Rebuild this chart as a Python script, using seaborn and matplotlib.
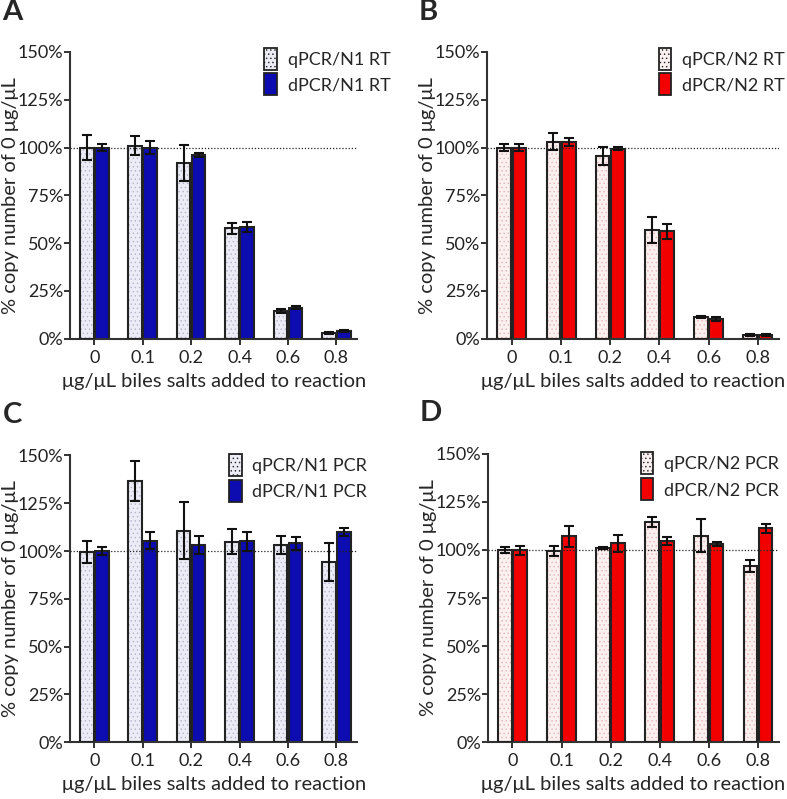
import numpy as np
import pandas as pd
import matplotlib
matplotlib.use("Agg")
from matplotlib import pyplot as plt
from matplotlib.patches import Rectangle, Patch
import seaborn as sns

# Bile salt concentrations (x categories)
concentrations = ["0", "0.1", "0.2", "0.4", "0.6", "0.8"]

# Panel A: N1 RT
qpcr_n1_rt = [100, 101, 92, 57.8, 14.6, 2.8]
qpcr_n1_rt_err = [6.6, 5, 9.4, 2.8, 1, 0.5]
dpcr_n1_rt = [100, 100, 96, 58.5, 16.3, 4]
dpcr_n1_rt_err = [2, 3.6, 1, 2.5, 0.8, 0.6]

# Panel B: N2 RT
qpcr_n2_rt = [100, 103, 95.7, 56.9, 11.5, 1.9]
qpcr_n2_rt_err = [1.8, 4.5, 4.7, 7, 0.6, 0.5]
dpcr_n2_rt = [100, 103, 99.5, 56.2, 10.3, 2.2]
dpcr_n2_rt_err = [2, 2, 1, 4, 1.2, 0.5]

# Panel C: N1 PCR
qpcr_n1_pcr = [99.5, 136.8, 110.7, 104.9, 103.2, 94.3]
qpcr_n1_pcr_err = [6, 10.5, 14.8, 6.4, 4.9, 10]
dpcr_n1_pcr = [100, 105.4, 103.4, 105.1, 104, 110]
dpcr_n1_pcr_err = [2, 4.4, 4.7, 5, 3.5, 2.3]

# Panel D: N2 PCR
qpcr_n2_pcr = [99.8, 99.5, 101, 114.5, 107.5, 91.5]
qpcr_n2_pcr_err = [1.5, 2.5, 0.7, 2.5, 8.7, 3.2]
dpcr_n2_pcr = [99.8, 107.2, 103.5, 104.8, 103, 111.2]
dpcr_n2_pcr_err = [2.3, 5.4, 4.5, 2, 1, 2.2]

sns.set_style("white")
plt.rcParams["font.family"] = ["Lato", "DejaVu Sans"]
plt.rcParams["hatch.linewidth"] = 0.5

BLUE = "#0c0cb0"
RED = "#f20000"


def panel(ax, q, q_err, d, d_err, names, dark, light, dots, letter, leg_anchor, ylab_x):
    df = pd.DataFrame({
        "conc": concentrations * 2,
        "value": list(q) + list(d),
        "assay": [names[0]] * len(q) + [names[1]] * len(d),
    })
    sns.barplot(data=df, x="conc", y="value", hue="assay", order=concentrations,
                hue_order=names, palette=[light, dark], width=0.62, gap=0.1,
                errorbar=None, legend=False, ax=ax, saturation=1)

    # qPCR bars: dotted fill, dark outline drawn on top
    for bar in ax.containers[0]:
        bar.set_facecolor(light)
        bar.set_edgecolor(dots)
        bar.set_hatch("....")
        bar.set_linewidth(0)
        outline = Rectangle(bar.get_xy(), bar.get_width(), bar.get_height(),
                            facecolor="none", edgecolor="#222222", linewidth=1.5, zorder=3)
        ax.add_patch(outline)
    for bar in ax.containers[1]:
        bar.set_edgecolor("#222222")
        bar.set_linewidth(1.5)

    for cont, err in zip(ax.containers[:2], [q_err, d_err]):
        xs = [b.get_x() + b.get_width() / 2 for b in cont]
        ys = [b.get_height() for b in cont]
        ax.errorbar(xs, ys, yerr=err, fmt="none", ecolor="#111111",
                    elinewidth=1.5, capsize=3.6, capthick=1.5, zorder=4)

    ax.axhline(100, color="#222222", linestyle=(0, (1, 1.5)), linewidth=0.9, zorder=1)

    ax.set_ylim(0, 150)
    ax.set_xlim(-0.5, 5.43)
    ax.set_yticks([0, 25, 50, 75, 100, 125, 150])
    ax.set_yticklabels([f"{v}%" for v in [0, 25, 50, 75, 100, 125, 150]])
    ax.set_ylabel("% copy number of 0 μg/μL", fontsize=14.5)
    ax.yaxis.set_label_coords(ylab_x, 0.5)
    ax.set_xlabel("μg/μL biles salts added to reaction", fontsize=14.5, labelpad=5)
    ax.tick_params(axis="both", labelsize=13, colors="#222222", length=4,
                   width=1.3, direction="out", bottom=True, left=True)
    ax.tick_params(axis="y", pad=1)
    ax.tick_params(axis="x", pad=4)
    for s in ["top", "right"]:
        ax.spines[s].set_visible(False)
    for s in ["left", "bottom"]:
        ax.spines[s].set_color("#333333")
        ax.spines[s].set_linewidth(1.5)

    handles = [Patch(facecolor=light, edgecolor="#222222", hatch="....", linewidth=1.3),
               Patch(facecolor=dark, edgecolor="#222222", linewidth=1.3)]
    ax.legend(handles, names, loc="upper right", frameon=False, fontsize=13,
              handlelength=0.7, handleheight=1.5, handletextpad=0.6,
              labelspacing=0.2, borderaxespad=0.0, bbox_to_anchor=leg_anchor)
    ax.text(-0.235, 1.185, letter, transform=ax.transAxes, fontsize=21,
            fontweight="bold", ha="left", va="top")


fig = plt.figure(figsize=(7.87, 7.99), dpi=100)
axA = fig.add_axes([0.089, 0.576, 0.365, 0.359])
axB = fig.add_axes([0.619, 0.576, 0.371, 0.359])
axC = fig.add_axes([0.089, 0.071, 0.365, 0.359])
axD = fig.add_axes([0.620, 0.071, 0.370, 0.361])

panel(axA, qpcr_n1_rt, qpcr_n1_rt_err, dpcr_n1_rt, dpcr_n1_rt_err,
      ["qPCR/N1 RT", "dPCR/N1 RT"], BLUE, "#ececf6", "#b4b4cc", "A", (1.14, 1.04), -0.178)
panel(axB, qpcr_n2_rt, qpcr_n2_rt_err, dpcr_n2_rt, dpcr_n2_rt_err,
      ["qPCR/N2 RT", "dPCR/N2 RT"], RED, "#fbf0f0", "#e4b4b4", "B", (1.045, 1.04), -0.175)
panel(axC, qpcr_n1_pcr, qpcr_n1_pcr_err, dpcr_n1_pcr, dpcr_n1_pcr_err,
      ["qPCR/N1 PCR", "dPCR/N1 PCR"], BLUE, "#ececf6", "#b4b4cc", "C", (1.06, 1.03), -0.178)
panel(axD, qpcr_n2_pcr, qpcr_n2_pcr_err, dpcr_n2_pcr, dpcr_n2_pcr_err,
      ["qPCR/N2 PCR", "dPCR/N2 PCR"], RED, "#fbf0f0", "#e4b4b4", "D", (1.025, 1.03), -0.175)

fig.savefig("out.png", dpi=100)
